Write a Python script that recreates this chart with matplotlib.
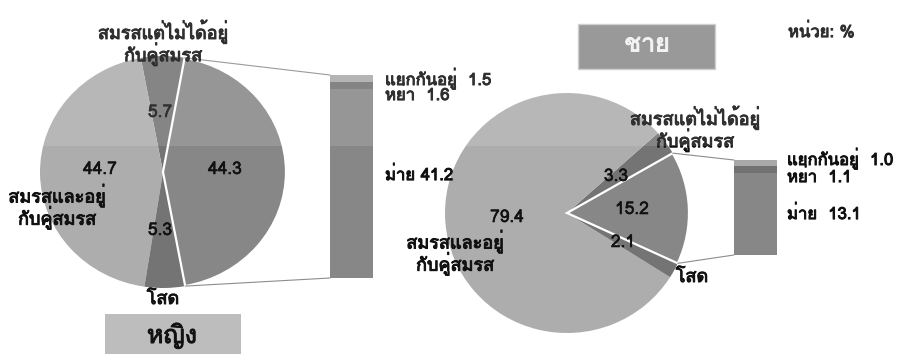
import matplotlib
matplotlib.use('Agg')
from matplotlib import pyplot as plt
from matplotlib import font_manager
from matplotlib import patheffects
from matplotlib.ft2font import FT2Font
from matplotlib.patches import ConnectionPatch, Rectangle
import numpy as np

# marital status shares (%), women and men
pie_labels = ["เคยสมรส", "สมรสแต่ไม่ได้อยู่\nกับคู่สมรส", "สมรสและอยู่\nกับคู่สมรส", "โสด"]
women_pie = [44.3, 5.7, 44.7, 5.3]
men_pie = [15.2, 3.3, 79.4, 2.1]

# breakdown of the "ever married" slice
bar_labels = ["ม่าย", "หย่า", "แยกกันอยู่"]
women_bar = [41.2, 1.6, 1.5]
men_bar = [13.1, 1.1, 1.0]

pie_colors = ["#878787", "#747474", "#adadad", "#747474"]
bar_colors = ["#878787", "#727272", "#a9a9a9"]


def find_thai_font():
    for path in sorted(font_manager.findSystemFonts()):
        try:
            cmap = FT2Font(path).get_charmap()
        except Exception:
            continue
        if 0x0E01 in cmap and 0x0E2A in cmap:
            font_manager.fontManager.addfont(path)
            return font_manager.FontProperties(fname=path).get_name()
    return None


thai = find_thai_font()
families = ([thai] if thai else []) + ['DejaVu Sans']
plt.rcParams['font.family'] = families

W, H = 902, 354
fig = plt.figure(figsize=(W / 100, H / 100), dpi=100)


def px(x, y):
    return x / W, 1 - y / H


def add_axes_px(x0, y0, x1, y1):
    return fig.add_axes([x0 / W, 1 - y1 / H, (x1 - x0) / W, (y1 - y0) / H])


def draw_group(values, bar_vals, center, rx, ry, start, bar_box):
    cx, cy = center
    pax = add_axes_px(cx - rx, cy - ry, cx + rx, cy + ry)
    wedges, _ = pax.pie(values, colors=pie_colors, startangle=start,
                        counterclock=True, radius=1)
    w = wedges[0]
    w.set_edgecolor('white')
    w.set_linewidth(1.6)
    w.set_zorder(3)
    pax.set_xlim(-1, 1)
    pax.set_ylim(-1, 1)
    pax.set_aspect('auto')
    pax.axis('off')

    bax = add_axes_px(*bar_box)
    bottom = 0
    for v, c in zip(bar_vals, bar_colors):
        bax.bar(0, v, width=1, bottom=bottom, color=c, linewidth=0)
        bottom += v
    bax.set_xlim(-0.5, 0.5)
    bax.set_ylim(0, bottom)
    bax.axis('off')

    # connector lines from slice edges to the bar
    for theta, yb in [(w.theta2, bottom), (w.theta1, 0)]:
        t = np.deg2rad(theta)
        con = ConnectionPatch(xyA=(np.cos(t), np.sin(t)), coordsA=pax.transData,
                              xyB=(-0.5, yb), coordsB=bax.transData,
                              color='#8c8c8c', lw=0.8)
        fig.add_artist(con)
    return pax, bax


draw_group(women_pie, women_bar, (163, 172), 123, 116, -79.6, (330, 75, 373, 278))
draw_group(men_pie, men_bar, (567, 213), 122, 120, -24.8, (734, 160, 777, 255))


def label(x, y, s, size=12, ha='center', color='#111111', heavy=0.0):
    t = fig.text(*px(x, y), s, ha=ha, va='center', fontsize=size,
                 color=color, linespacing=0.95)
    if heavy:
        # thicken the strokes a little, the thai face has no bold
        t.set_path_effects([patheffects.withStroke(linewidth=heavy, foreground=color)])
    return t


# slice values
for (x, y), v in zip([(225, 170), (160, 113), (100, 170), (160, 231)], women_pie):
    label(x, y, f"{v:.1f}", 12.5, heavy=0.4)
for (x, y), v in zip([(632, 210), (616, 177), (507, 218), (623, 243)], men_pie):
    label(x, y, f"{v:.1f}", 12.5, heavy=0.4)

# slice names
label(163, 43, pie_labels[1], 13, heavy=0.7)
label(57, 207, pie_labels[2], 13, heavy=0.7)
label(163, 299, pie_labels[3], 13, heavy=0.7)
label(695, 129, pie_labels[1], 13, heavy=0.7)
label(455, 253, pie_labels[2], 13, heavy=0.7)
label(692, 277, pie_labels[3], 13, heavy=0.7)

# bar annotations
label(385, 79, f"{bar_labels[2]}  {women_bar[2]:.1f}", 12, ha='left', heavy=0.7)
label(385, 96, f"{bar_labels[1]}  {women_bar[1]:.1f}", 12, ha='left', heavy=0.7)
label(385, 176, f"{bar_labels[0]} {women_bar[0]:.1f}", 12, ha='left', heavy=0.7)
label(787, 159, f"{bar_labels[2]}  {men_bar[2]:.1f}", 12, ha='left', heavy=0.7)
label(787, 178, f"{bar_labels[1]}  {men_bar[1]:.1f}", 12, ha='left', heavy=0.7)
label(787, 215, f"{bar_labels[0]}  {men_bar[0]:.1f}", 12, ha='left', heavy=0.7)

label(788, 33, "หน่วย: %", 12, ha='left', heavy=0.7)

# group title boxes
fig.add_artist(Rectangle(px(105, 354), 136 / W, 40 / H, transform=fig.transFigure,
                         facecolor='#bdbdbd', edgecolor='none'))
label(172, 336, "หญิง", 18, heavy=0.7)
fig.add_artist(Rectangle(px(578, 69), 137 / W, 45 / H, transform=fig.transFigure,
                         facecolor='#8a8a8a', edgecolor='#c8c8c8', lw=1))
label(647, 45, "ชาย", 18, color='#f2f2f2', heavy=0.7)

# light band across the top
fig.add_artist(Rectangle(px(0, 146), 1, 146 / H, transform=fig.transFigure,
                         facecolor='white', alpha=0.13, edgecolor='none', zorder=10))

fig.savefig('out.png', dpi=100)
